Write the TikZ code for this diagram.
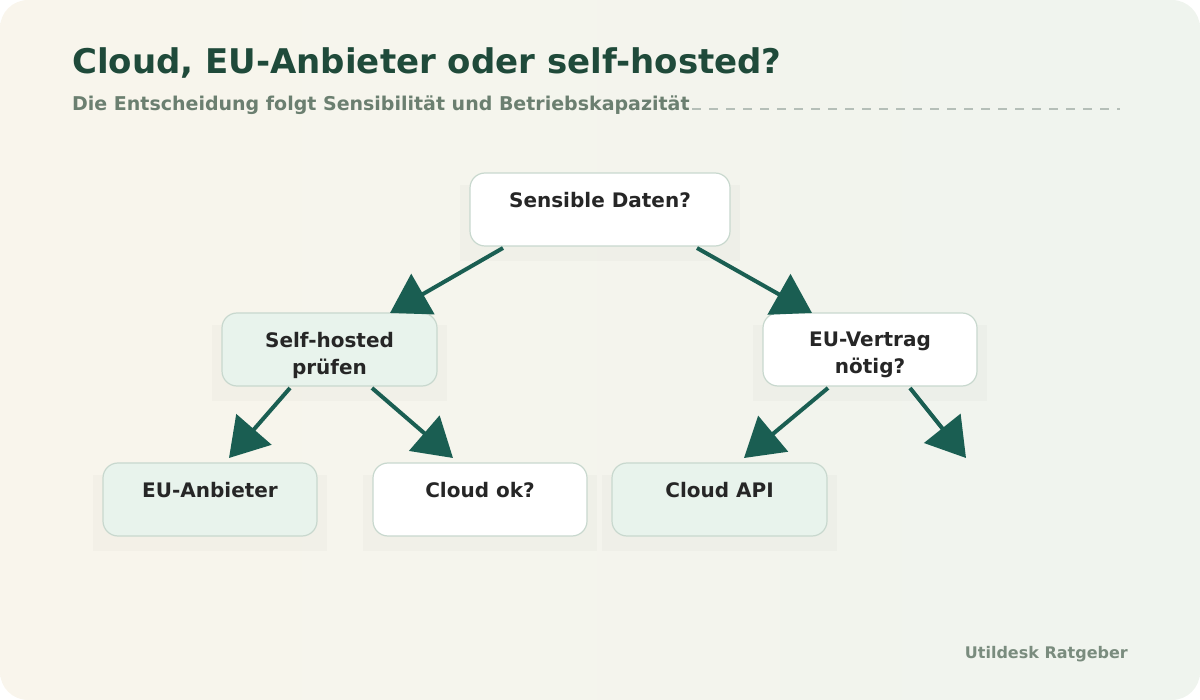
\documentclass[tikz,border=0pt]{standalone}
\usepackage{fontspec}
\setmainfont{DejaVu Sans}
\usetikzlibrary{arrows.meta}
\definecolor{ttl}{HTML}{1F4A3A}
\definecolor{sub}{HTML}{6B7F70}
\definecolor{arr}{HTML}{1A5E52}
\definecolor{bd}{HTML}{C8D8CE}
\definecolor{gfill}{HTML}{E8F3EC}
\definecolor{bgA}{HTML}{F9F5EC}
\definecolor{bgB}{HTML}{EFF4EE}
\begin{document}
\begin{tikzpicture}[x=1pt,y=-1pt,
  box/.style={draw=bd,line width=1.2pt,rounded corners=15pt},
  wbox/.style={box,fill=white},
  gbox/.style={box,fill=gfill},
  shd/.style={fill=black,opacity=0.018},
  lbl/.style={anchor=north,align=center,font=\bfseries\fontsize{20}{27}\selectfont,text=black!85,inner sep=0pt},
  con/.style={draw=arr,line width=4pt,-{Triangle[length=38pt,width=46pt]}}]
\useasboundingbox (0,0) rectangle (1200,700);
\shade[left color=bgA,right color=bgB,rounded corners=28pt] (0,0) rectangle (1200,700);
\node[anchor=base west,font=\bfseries\fontsize{34}{40}\selectfont,text=ttl,inner sep=0pt] (title) at (72,74) {Cloud, EU-Anbieter oder self-hosted?};
\node[anchor=base west,font=\bfseries\fontsize{19}{22}\selectfont,text=sub,inner sep=0pt] (subt) at (72,111) {Die Entscheidung folgt Sensibilität und Betriebskapazität};
\draw[sub!50,line width=1.2pt,dash pattern=on 9pt off 8pt] (692,109) -- (1120,109);
% shadows
\foreach \x/\y/\w in {470/173/260,222/313/215,763/313/214,103/463/214,373/463/214,612/463/215}
  {\fill[shd] (\x-10,\y+12) rectangle (\x+\w+10,\y+88);}
% boxes
\draw[wbox] (470,173) rectangle (730,246);
\node[lbl] (ta) at (600,192) {Sensible Daten?};
\draw[gbox] (222,313) rectangle (437,386);
\node[lbl] (tb) at (329.5,332) {Self-hosted\\prüfen};
\draw[wbox] (763,313) rectangle (977,386);
\node[lbl] (tc) at (870,332) {EU-Vertrag\\nötig?};
\draw[gbox] (103,463) rectangle (317,536);
\node[lbl] (td) at (210,482) {EU-Anbieter};
\draw[wbox] (373,463) rectangle (587,536);
\node[lbl] (te) at (480,482) {Cloud ok?};
\draw[gbox] (612,463) rectangle (827,536);
\node[lbl] (tf) at (719.5,482) {Cloud API};
% connectors
\coordinate (a1) at (503,248); \coordinate (b0) at (390,313);
\coordinate (a2) at (697,248); \coordinate (c0) at (812,313);
\coordinate (b1) at (290,388); \coordinate (d0) at (229,458);
\coordinate (b2) at (372,388); \coordinate (e0) at (453,458);
\coordinate (c1) at (828,388); \coordinate (f0) at (744,458);
\coordinate (c2) at (910,388); \coordinate (g0) at (966,458);
\draw[con] (a1) -- (b0);
\draw[con] (a2) -- (c0);
\draw[con] (b1) -- (d0);
\draw[con] (b2) -- (e0);
\draw[con] (c1) -- (f0);
\draw[con] (c2) -- (g0);
\node[anchor=base east,font=\bfseries\fontsize{16}{18}\selectfont,text=sub!90,inner sep=0pt] (foot) at (1128,658) {Utildesk Ratgeber};
\end{tikzpicture}
\end{document}
